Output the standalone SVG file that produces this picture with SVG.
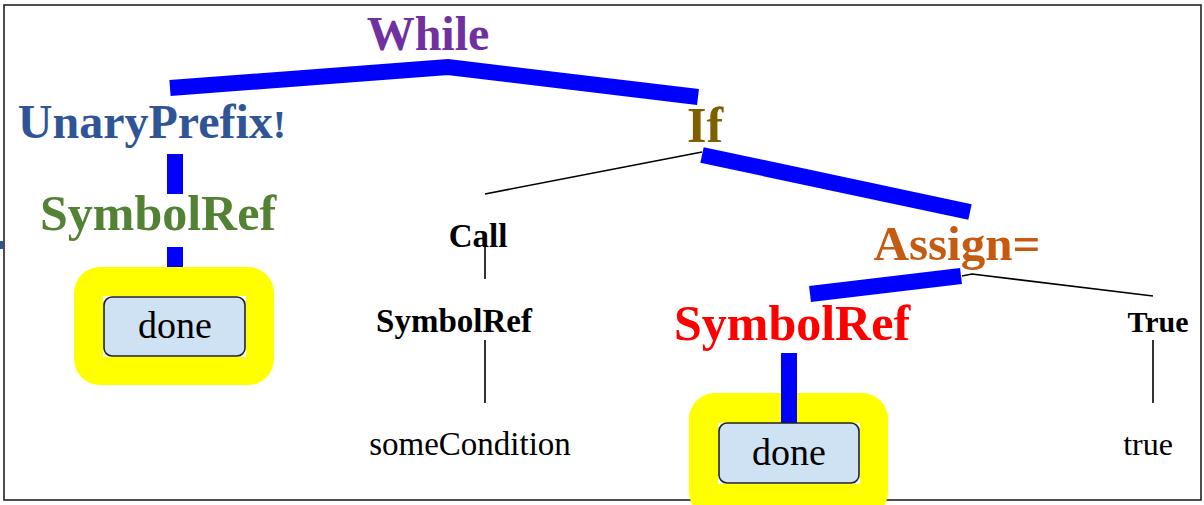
<svg xmlns="http://www.w3.org/2000/svg" width="1204" height="505" viewBox="0 0 1204 505">
  <style>
    .big { font-family: "Liberation Serif", "Times New Roman", serif; font-weight: bold; text-anchor: middle; }
    .small { font-family: "Liberation Serif", "Times New Roman", serif; font-weight: bold; text-anchor: middle; fill: #000; }
    .leaf { font-family: "Liberation Serif", "Times New Roman", serif; text-anchor: middle; fill: #000; }
    .thick { stroke: #0000ff; stroke-width: 16; fill: none; stroke-linecap: butt; stroke-linejoin: miter; }
    .thin { stroke: #000; stroke-width: 1.6; fill: none; }
    .hl { fill: #ffff00; }
    .box { fill: #cfe2f3; stroke: #222; stroke-width: 1.6; }
  </style>

  <rect x="0" y="0" width="1204" height="505" fill="#fff"/>
  <!-- frame -->
  <rect x="4" y="5" width="1197" height="495" fill="none" stroke="#222" stroke-width="1.6"/>
  <path d="M0 241 h3 v8 h-3 z" fill="#2f5597"/>

  <!-- connectors -->
  <g id="connectors">
    <polyline class="thick" points="170,88 448,67 698,97"/>
    <line class="thick" x1="175" y1="154" x2="175" y2="194"/>
    <line class="thick" x1="175" y1="247" x2="175" y2="268"/>
    <line class="thin" x1="702" y1="152" x2="485" y2="194"/>
    <line class="thick" x1="702" y1="155" x2="970" y2="212"/>
    <line class="thick" x1="961" y1="276" x2="810" y2="294"/>
    <polyline class="thin" points="962,276 972,274 1153,296"/>
    <line class="thin" x1="485" y1="245" x2="485" y2="279"/>
    <line class="thin" x1="485" y1="340" x2="485" y2="403"/>
    <line class="thin" x1="1153" y1="340" x2="1153" y2="403"/>
    <line class="thick" x1="789" y1="353" x2="789" y2="394"/>
  </g>

  <g id="while"><text class="big" x="428" y="50" font-size="48" fill="#7030a0">While</text></g>
  <g id="unary"><text class="big" x="152" y="138" font-size="48" fill="#2f5597">UnaryPrefix<tspan font-size="40">!</tspan></text></g>
  <g id="symref1"><text class="big" x="158" y="230" font-size="50" fill="#548235">SymbolRef</text></g>

  <g id="done1">
    <rect class="hl" x="74" y="267" width="200" height="118" rx="26"/>
    <rect x="103" y="296" width="143" height="61" fill="#fff"/>
    <rect class="box" x="104" y="297" width="141" height="59" rx="8"/>
    <text class="leaf" x="175" y="338" font-size="38">done</text>
  </g>

  <g id="if"><text class="big" x="705" y="142" font-size="50" fill="#7f6000">If</text></g>
  <g id="call"><text class="small" x="478" y="247" font-size="33">Call</text></g>
  <g id="symref2"><text class="small" x="454" y="332" font-size="33">SymbolRef</text></g>
  <g id="somecond"><text class="leaf" x="470" y="455" font-size="33">someCondition</text></g>

  <g id="assign"><text class="big" x="957" y="260" font-size="49" fill="#c55a11">Assign=</text></g>
  <g id="symref3"><text class="big" x="792" y="340" font-size="50" fill="#ff0000">SymbolRef</text></g>
  <g id="true"><text class="small" x="1158" y="332" font-size="30">True</text></g>
  <g id="trueval"><text class="leaf" x="1148" y="455" font-size="32">true</text></g>

  <g id="done2">
    <rect class="hl" x="689" y="393" width="199" height="125" rx="26"/>
    <line class="thick" x1="789" y1="392" x2="789" y2="424"/>
    <rect x="718" y="423" width="142" height="61" fill="#fff"/>
    <rect class="box" x="719" y="423" width="140" height="60" rx="8"/>
    <text class="leaf" x="789" y="465" font-size="38">done</text>
  </g>
</svg>
